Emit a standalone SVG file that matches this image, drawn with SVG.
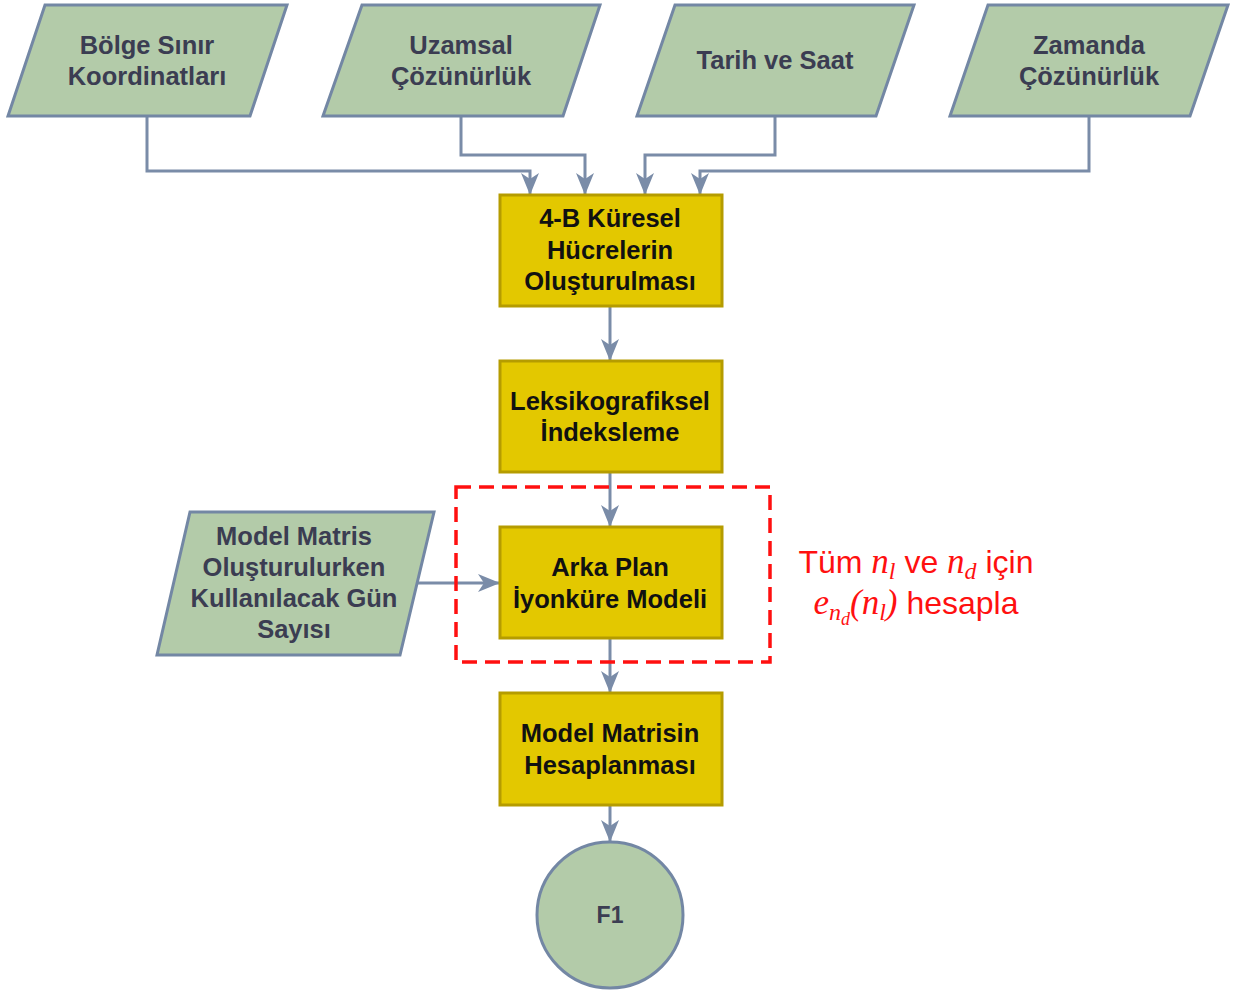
<svg xmlns="http://www.w3.org/2000/svg" width="1235" height="993" viewBox="0 0 1235 993">
<defs>
<marker id="ah" markerUnits="userSpaceOnUse" markerWidth="24" markerHeight="24" viewBox="0 0 24 24" refX="22" refY="12" orient="auto">
<path d="M0,3 L22,12 L0,21 L6,12 Z" fill="#7a8ca8"/>
</marker>
<style>
.in{fill:#b3cba9;stroke:#7387a4;stroke-width:3;stroke-linejoin:miter}
.pr{fill:#e3c800;stroke:#b59c00;stroke-width:3}
.t{font-family:"Liberation Sans",Arial,sans-serif;font-weight:bold;font-size:25.5px;text-anchor:middle}
.tg{fill:#3b3d52}
.tb{fill:#111}
.c{fill:none;stroke:#7a8ca8;stroke-width:3;marker-end:url(#ah)}
.red{font-family:"Liberation Sans",Arial,sans-serif;font-size:32px;fill:#ff1010;text-anchor:middle}
.m{font-family:"Liberation Serif","Times New Roman",serif;font-style:italic}
</style>
</defs>
<rect width="1235" height="993" fill="#fff"/>

<g id="connectors">
<polyline class="c" points="147,116 147,171 530,171 530,195"/>
<polyline class="c" points="461,116 461,155 585,155 585,195"/>
<polyline class="c" points="775,116 775,155 645,155 645,195"/>
<polyline class="c" points="1089,116 1089,171 700,171 700,195"/>
<line class="c" x1="610" y1="306" x2="610" y2="361"/>
<line class="c" x1="610" y1="472" x2="610" y2="527"/>
<line class="c" x1="610" y1="638" x2="610" y2="693"/>
<line class="c" x1="610" y1="805" x2="610" y2="842"/>
<line class="c" x1="417" y1="583" x2="500" y2="583"/>
</g>

<g id="n-bolge">
<polygon class="in" points="45,5 287,5 250,116 8,116"/>
<text class="t tg" x="147" y="54">Bölge Sınır</text>
<text class="t tg" x="147" y="85">Koordinatları</text>
</g>
<g id="n-uzamsal">
<polygon class="in" points="362,5 600,5 563,116 323,116"/>
<text class="t tg" x="461" y="54">Uzamsal</text>
<text class="t tg" x="461" y="85">Çözünürlük</text>
</g>
<g id="n-tarih">
<polygon class="in" points="675,5 914,5 876,116 637,116"/>
<text class="t tg" x="775" y="69">Tarih ve Saat</text>
</g>
<g id="n-zamanda">
<polygon class="in" points="988,5 1228,5 1190,116 950,116"/>
<text class="t tg" x="1089" y="54">Zamanda</text>
<text class="t tg" x="1089" y="85">Çözünürlük</text>
</g>

<g id="n-kuresel">
<rect class="pr" x="500" y="195" width="222" height="111"/>
<text class="t tb" x="610" y="227">4-B Küresel</text>
<text class="t tb" x="610" y="259">Hücrelerin</text>
<text class="t tb" x="610" y="290">Oluşturulması</text>
</g>
<g id="n-leksiko">
<rect class="pr" x="500" y="361" width="222" height="111"/>
<text class="t tb" x="610" y="410">Leksikografiksel</text>
<text class="t tb" x="610" y="441">İndeksleme</text>
</g>
<g id="n-arka">
<rect class="pr" x="500" y="527" width="222" height="111"/>
<text class="t tb" x="610" y="576">Arka Plan</text>
<text class="t tb" x="610" y="608">İyonküre Modeli</text>
</g>
<g id="n-model">
<rect class="pr" x="500" y="693" width="222" height="112"/>
<text class="t tb" x="610" y="742">Model Matrisin</text>
<text class="t tb" x="610" y="774">Hesaplanması</text>
</g>
<g id="n-f1">
<circle cx="610" cy="915" r="73" fill="#b3cba9" stroke="#7387a4" stroke-width="3"/>
<text class="t tg" x="610" y="923" style="font-size:23px">F1</text>
</g>
<g id="n-gun">
<polygon class="in" points="190,512 434,512 400,655 157,655"/>
<text class="t tg" x="294" y="545">Model Matris</text>
<text class="t tg" x="294" y="576">Oluşturulurken</text>
<text class="t tg" x="294" y="607">Kullanılacak Gün</text>
<text class="t tg" x="294" y="638">Sayısı</text>
</g>

<g id="highlight">
<rect x="456" y="487" width="314" height="175" fill="none" stroke="#ff1010" stroke-width="3.5" stroke-dasharray="15,8"/>
<text class="red" x="916" y="573">Tüm <tspan class="m" font-size="35">n</tspan><tspan class="m" font-size="24" dy="6">l</tspan><tspan dy="-6"> ve </tspan><tspan class="m" font-size="35">n</tspan><tspan class="m" font-size="24" dy="6">d</tspan><tspan dy="-6"> için</tspan></text>
<text class="red" x="916" y="614"><tspan class="m" font-size="35">e</tspan><tspan class="m" font-size="24" dy="6">n</tspan><tspan class="m" font-size="18" dy="5">d</tspan><tspan class="m" font-size="35" dy="-11">(n</tspan><tspan class="m" font-size="24" dy="6">l</tspan><tspan class="m" font-size="35" dy="-6">)</tspan><tspan> hesapla</tspan></text>
</g>
</svg>
